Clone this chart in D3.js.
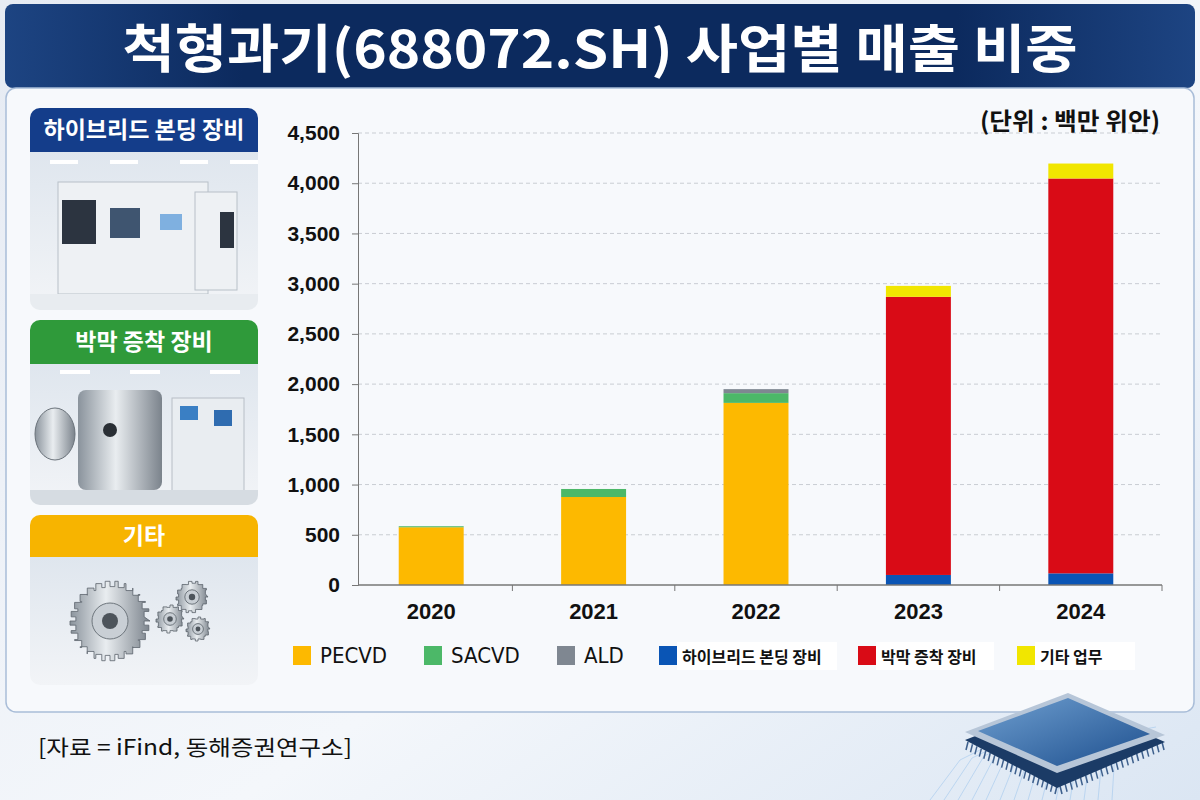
<!DOCTYPE html>
<html>
<head>
<meta charset="utf-8">
<script src="https://cdn.jsdelivr.net/npm/d3@7"></script>
<style>
  html, body { margin: 0; padding: 0; background: #eef2f8; }
  svg { display: block; }
</style>
</head>
<body>
<div id="chart"></div>
<script>
// ---- data (백만 위안) ----
const years = ["2020", "2021", "2022", "2023", "2024"];
const pecvd = [575, 876, 1813, 0, 0];
const sacvd = [10, 80, 97, 0, 0];
const ald = [0, 0, 40, 0, 0];
const hybridBonding = [0, 0, 0, 100, 116];
const thinFilm = [0, 0, 0, 2769, 3931];
const others = [0, 0, 0, 109, 149];
const yTicks = [0, 500, 1000, 1500, 2000, 2500, 3000, 3500, 4000, 4500];

const seriesNames = ["PECVD", "SACVD", "ALD", "하이브리드 본딩 장비", "박막 증착 장비", "기타 업무"];
const seriesColors = ["#fdb900", "#4cb868", "#7f8791", "#0a55b5", "#d90b16", "#f1e600"];

const width = 1200, height = 800;
const KR = "'Noto Sans CJK KR', 'Noto Sans', sans-serif";
const NUM = "'Liberation Sans', Arial, sans-serif";

const svg = d3.select("#chart").append("svg")
    .attr("width", width)
    .attr("height", height);

const defs = svg.append("defs");

// page background
const bg = defs.append("linearGradient").attr("id", "bg")
    .attr("x1", 0).attr("y1", 0).attr("x2", 1).attr("y2", 1);
bg.append("stop").attr("offset", "0%").attr("stop-color", "#e6ebf3");
bg.append("stop").attr("offset", "60%").attr("stop-color", "#f4f7fb");
bg.append("stop").attr("offset", "100%").attr("stop-color", "#dbe6f3");
svg.append("rect").attr("width", width).attr("height", height).attr("fill", "url(#bg)");

// title banner
const tg = defs.append("linearGradient").attr("id", "titleGrad")
    .attr("x1", 0).attr("y1", 0).attr("x2", 1).attr("y2", 0);
tg.append("stop").attr("offset", "0%").attr("stop-color", "#1d4482");
tg.append("stop").attr("offset", "20%").attr("stop-color", "#0c2a5e");
tg.append("stop").attr("offset", "80%").attr("stop-color", "#0c2a5e");
tg.append("stop").attr("offset", "100%").attr("stop-color", "#1d4482");
svg.append("rect")
    .attr("x", 5).attr("y", 4).attr("width", 1190).attr("height", 84).attr("rx", 8)
    .attr("fill", "url(#titleGrad)");

svg.append("text")
    .attr("x", 600).attr("y", 68)
    .attr("text-anchor", "middle")
    .attr("font-family", KR)
    .attr("font-weight", "bold")
    .attr("font-size", 52)
    .attr("fill", "#fff")
    .attr("textLength", 955).attr("lengthAdjust", "spacingAndGlyphs")
    .text("척형과기(688072.SH) 사업별 매출 비중");

// main panel
svg.append("rect")
    .attr("x", 6).attr("y", 88).attr("width", 1188).attr("height", 624).attr("rx", 10)
    .attr("fill", "#f7f9fc")
    .attr("stroke", "#a9bdd8").attr("stroke-width", 1.5);

// ---- left cards (decorative) ----
const cards = [
    { label: "하이브리드 본딩 장비", color: "#143d8a", y: 108, h: 44, imgH: 158, kind: "machine" },
    { label: "박막 증착 장비", color: "#2f9a3a", y: 320, h: 44, imgH: 141, kind: "chamber" },
    { label: "기타", color: "#f7b400", y: 515, h: 42, imgH: 128, kind: "gears" }
];

const ig = defs.append("linearGradient").attr("id", "imgGrad")
    .attr("x1", 0).attr("y1", 0).attr("x2", 0).attr("y2", 1);
ig.append("stop").attr("offset", "0%").attr("stop-color", "#dfe6ee");
ig.append("stop").attr("offset", "100%").attr("stop-color", "#f2f4f7");

const mg = defs.append("linearGradient").attr("id", "metal")
    .attr("x1", 0).attr("y1", 0).attr("x2", 1).attr("y2", 0);
mg.append("stop").attr("offset", "0%").attr("stop-color", "#8a939c");
mg.append("stop").attr("offset", "45%").attr("stop-color", "#e9edf0");
mg.append("stop").attr("offset", "100%").attr("stop-color", "#7b838c");

cards.forEach(c => {
    const g = svg.append("g");
    const x = 30, w = 228;
    g.append("clipPath").attr("id", "clip-" + c.kind)
        .append("rect").attr("x", x).attr("y", c.y).attr("width", w)
        .attr("height", c.h + c.imgH).attr("rx", 10);
    const inner = g.append("g").attr("clip-path", `url(#clip-${c.kind})`);
    inner.append("rect").attr("x", x).attr("y", c.y + c.h).attr("width", w).attr("height", c.imgH)
        .attr("fill", "url(#imgGrad)");
    inner.append("rect").attr("x", x).attr("y", c.y).attr("width", w).attr("height", c.h)
        .attr("fill", c.color);
    g.append("text")
        .attr("x", x + w / 2).attr("y", c.y + c.h / 2 + 8)
        .attr("text-anchor", "middle")
        .attr("font-family", KR).attr("font-weight", "bold").attr("font-size", 23)
        .attr("fill", "#fff")
        .text(c.label);

    const top = c.y + c.h;
    if (c.kind === "machine") {
        // ceiling lights
        [50, 110, 180, 230].forEach(lx => inner.append("rect")
            .attr("x", lx).attr("y", top + 8).attr("width", 28).attr("height", 4).attr("fill", "#fff"));
        inner.append("rect").attr("x", 58).attr("y", top + 30).attr("width", 150).attr("height", 112)
            .attr("fill", "#eef1f4").attr("stroke", "#b8c0c8");
        inner.append("rect").attr("x", 62).attr("y", top + 48).attr("width", 34).attr("height", 44).attr("fill", "#2c3440");
        inner.append("rect").attr("x", 110).attr("y", top + 56).attr("width", 30).attr("height", 30).attr("fill", "#3f5570");
        inner.append("rect").attr("x", 160).attr("y", top + 62).attr("width", 22).attr("height", 16).attr("fill", "#7fb0e0");
        inner.append("rect").attr("x", 195).attr("y", top + 40).attr("width", 42).attr("height", 98)
            .attr("fill", "#eef1f4").attr("stroke", "#b8c0c8");
        inner.append("rect").attr("x", 220).attr("y", top + 60).attr("width", 14).attr("height", 36).attr("fill", "#2c3440");
        inner.append("rect").attr("x", 30).attr("y", top + 142).attr("width", 228).attr("height", 20).attr("fill", "#e8ecf0");
    } else if (c.kind === "chamber") {
        [60, 130, 210].forEach(lx => inner.append("rect")
            .attr("x", lx).attr("y", top + 6).attr("width", 30).attr("height", 4).attr("fill", "#fff"));
        inner.append("rect").attr("x", 78).attr("y", top + 26).attr("width", 84).attr("height", 100).attr("rx", 8)
            .attr("fill", "url(#metal)");
        inner.append("ellipse").attr("cx", 55).attr("cy", top + 70).attr("rx", 20).attr("ry", 26)
            .attr("fill", "url(#metal)").attr("stroke", "#6b737b");
        inner.append("circle").attr("cx", 110).attr("cy", top + 66).attr("r", 7).attr("fill", "#2a2f35");
        inner.append("rect").attr("x", 172).attr("y", top + 34).attr("width", 72).attr("height", 100)
            .attr("fill", "#e9edf1").attr("stroke", "#b7bec6");
        inner.append("rect").attr("x", 180).attr("y", top + 42).attr("width", 18).attr("height", 14).attr("fill", "#3a7fc4");
        inner.append("rect").attr("x", 214).attr("y", top + 46).attr("width", 18).attr("height", 16).attr("fill", "#2f6cb0");
        inner.append("rect").attr("x", 30).attr("y", top + 126).attr("width", 228).attr("height", 16).attr("fill", "#d6dce2");
    } else {
        const gear = (cx, cy, r, teeth) => {
            const pts = [];
            for (let i = 0; i < teeth * 2; i++) {
                const a = (i / (teeth * 2)) * Math.PI * 2;
                const rr = i % 2 === 0 ? r : r * 0.86;
                pts.push([cx + rr * Math.cos(a), cy + rr * Math.sin(a)]);
            }
            inner.append("path").attr("d", d3.line().curve(d3.curveStepAfter)(pts) + "Z")
                .attr("fill", "url(#metal)").attr("stroke", "#5d656d").attr("stroke-width", 0.8);
            inner.append("circle").attr("cx", cx).attr("cy", cy).attr("r", r * 0.45)
                .attr("fill", "#c9cfd5").attr("stroke", "#6d757c");
            inner.append("circle").attr("cx", cx).attr("cy", cy).attr("r", r * 0.2).attr("fill", "#4d545b");
        };
        gear(192, top + 40, 16, 14);
        gear(170, top + 62, 14, 12);
        gear(198, top + 72, 12, 12);
        gear(110, top + 64, 40, 26);
    }
});

// ---- chart ----
const plot = { left: 358, right: 1162, top: 133, bottom: 585 };

const x = d3.scaleBand()
    .domain(years)
    .range([350, plot.right])
    .paddingInner(0.6)
    .paddingOuter(0.3);

const y = d3.scaleLinear()
    .domain([0, 4500])
    .range([plot.bottom, plot.top]);

// gridlines
svg.append("g")
    .selectAll("line")
    .data(yTicks.filter(d => d > 0))
    .enter().append("line")
    .attr("x1", plot.left).attr("x2", plot.right)
    .attr("y1", d => y(d)).attr("y2", d => y(d))
    .attr("stroke", "#c9cdd3").attr("stroke-dasharray", "4,3").attr("stroke-width", 1);

// unit label
svg.append("text")
    .attr("x", 1160).attr("y", 130)
    .attr("text-anchor", "end")
    .attr("font-family", KR).attr("font-weight", "bold").attr("font-size", 24)
    .attr("fill", "#111")
    .attr("textLength", 180).attr("lengthAdjust", "spacingAndGlyphs")
    .text("(단위 : 백만 위안)");

// stacked bars
const table = years.map((yr, i) => ({
    year: yr,
    "PECVD": pecvd[i],
    "SACVD": sacvd[i],
    "ALD": ald[i],
    "하이브리드 본딩 장비": hybridBonding[i],
    "박막 증착 장비": thinFilm[i],
    "기타 업무": others[i]
}));
const stacked = d3.stack().keys(seriesNames)(table);

svg.append("g")
    .selectAll("g")
    .data(stacked)
    .enter().append("g")
    .attr("fill", (d, i) => seriesColors[i])
    .selectAll("rect")
    .data(d => d)
    .enter().append("rect")
    .attr("x", d => x(d.data.year))
    .attr("width", x.bandwidth())
    .attr("y", d => y(d[1]))
    .attr("height", d => y(d[0]) - y(d[1]));

// y axis
const yAxis = svg.append("g")
    .attr("transform", `translate(${plot.left},0)`)
    .call(d3.axisLeft(y).tickValues(yTicks).tickFormat(d3.format(",")).tickSize(6).tickPadding(12));
yAxis.select(".domain").attr("stroke", "#777");
yAxis.selectAll(".tick line").attr("stroke", "#777");
yAxis.selectAll("text")
    .attr("font-family", NUM).attr("font-weight", "bold").attr("font-size", 21).attr("fill", "#111");

// x axis
const xAxis = svg.append("g")
    .attr("transform", `translate(0,${plot.bottom})`)
    .call(d3.axisBottom(x).tickSize(0).tickPadding(18));
xAxis.select(".domain").remove();
xAxis.append("line")
    .attr("x1", plot.left).attr("x2", plot.right)
    .attr("stroke", "#777").attr("stroke-width", 1.5);
xAxis.selectAll("text")
    .attr("font-family", NUM).attr("font-weight", "bold").attr("font-size", 22).attr("fill", "#111");
// boundary ticks between categories
xAxis.selectAll(".sep")
    .data(years.slice(1).concat(["end"]))
    .enter().append("line")
    .attr("class", "sep")
    .attr("x1", (d, i) => i < years.length - 1 ? x(d) - x.step() * x.paddingInner() / 2 : plot.right)
    .attr("x2", (d, i) => i < years.length - 1 ? x(d) - x.step() * x.paddingInner() / 2 : plot.right)
    .attr("y1", 0).attr("y2", 6)
    .attr("stroke", "#777");

// ---- legend ----
const legendX = [293, 424, 557, 659, 858, 1017];
const legend = svg.append("g").selectAll("g")
    .data(seriesNames)
    .enter().append("g")
    .attr("transform", (d, i) => `translate(${legendX[i]},646)`);
legend.filter((d, i) => i >= 3).append("rect")
    .attr("x", 18).attr("y", -4).attr("height", 28)
    .attr("width", (d, i) => [160, 118, 100][i])
    .attr("fill", "#fff");
legend.append("rect")
    .attr("width", 18).attr("height", 19)
    .attr("fill", (d, i) => seriesColors[i]);
legend.append("text")
    .attr("x", (d, i) => i < 3 ? 27 : 23)
    .attr("y", 17)
    .attr("font-family", (d, i) => i < 3 ? "'Liberation Sans Narrow', 'DejaVu Sans Condensed', sans-serif" : KR)
    .attr("font-weight", (d, i) => i < 3 ? "normal" : "bold")
    .attr("font-size", (d, i) => i < 3 ? 22 : 16)
    .attr("fill", "#111")
    .text(d => d);

// ---- chip decoration (bottom right) ----
const cg = defs.append("linearGradient").attr("id", "chipTop")
    .attr("x1", 0).attr("y1", 0).attr("x2", 1).attr("y2", 1);
cg.append("stop").attr("offset", "0%").attr("stop-color", "#6f9fd0");
cg.append("stop").attr("offset", "100%").attr("stop-color", "#1d4f8e");
const chip = svg.append("g");
for (let i = 0; i < 14; i++) {
    chip.append("path")
        .attr("d", `M${930 + i * 14},800 L${960 + i * 12},${760 - i * 2} L${1000 + i * 12},${740 - i}`)
        .attr("fill", "none").attr("stroke", "#9cc4ec").attr("stroke-width", 1).attr("opacity", 0.55);
}
// pins along the two front edges
for (let i = 0; i <= 20; i++) {
    const t = i / 20;
    const ax = 968 + (1057 - 968) * t, ay = 742 + (786 - 742) * t;
    chip.append("line").attr("x1", ax).attr("y1", ay).attr("x2", ax - 2).attr("y2", ay + 8)
        .attr("stroke", "#3d5f8c").attr("stroke-width", 1.5);
    const bx = 1060 + (1162 - 1060) * t, by = 786 + (742 - 786) * t;
    chip.append("line").attr("x1", bx).attr("y1", by).attr("x2", bx + 2).attr("y2", by + 8)
        .attr("stroke", "#3d5f8c").attr("stroke-width", 1.5);
}
chip.append("polygon")
    .attr("points", "965,740 1068,700 1165,742 1057,788")
    .attr("fill", "#1b3b66");
chip.append("polygon")
    .attr("points", "965,732 1068,693 1165,735 1057,773")
    .attr("fill", "#b7c6d8");
chip.append("polygon")
    .attr("points", "978,731 1068,698 1150,734 1057,766")
    .attr("fill", "url(#chipTop)");

// footer
svg.append("text")
    .attr("x", 38).attr("y", 755)
    .attr("font-family", KR).attr("font-size", 21).attr("fill", "#111")
    .attr("textLength", 314).attr("lengthAdjust", "spacingAndGlyphs")
    .text("[자료 = iFind,  동해증권연구소]");
</script>
</body>
</html>
